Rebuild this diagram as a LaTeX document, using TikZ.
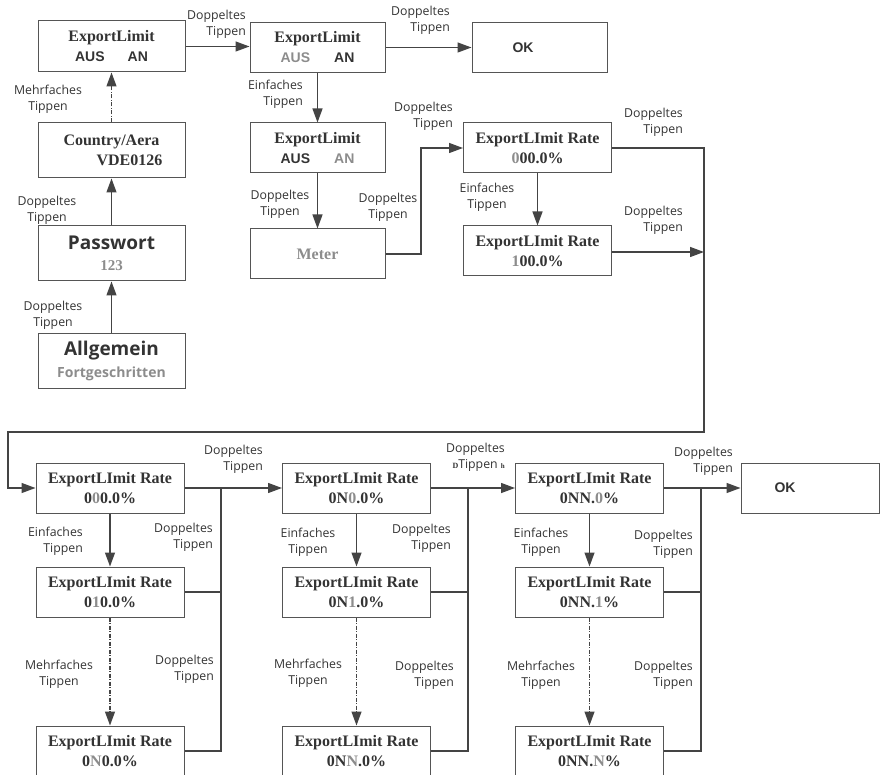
\documentclass[tikz,border=0pt]{standalone}
\usepackage{fontspec}
\setmainfont{Liberation Serif}
\newfontfamily\lblfamily{Open Sans}
\newfontfamily\arialfamily{Liberation Sans}
\usetikzlibrary{arrows.meta}
\definecolor{txt}{HTML}{333333}
\definecolor{gry}{HTML}{8C8C8C}
\definecolor{lnc}{HTML}{444444}
\definecolor{bxc}{HTML}{555555}
\newcommand\srb[1]{{\fontsize{16}{20}\selectfont\bfseries #1}}
\newcommand\arb[1]{{\arialfamily\fontsize{14}{20}\selectfont\bfseries #1}}
\newcommand\osb[2]{{\lblfamily\fontsize{#1}{20}\selectfont\bfseries #2}}
\newcommand\gr[1]{\textcolor{gry}{#1}}
\tikzset{
  box/.style={draw=bxc, line width=1pt, text=txt, align=center, inner sep=0pt,
    font=\fontsize{16}{20}\selectfont\bfseries},
  wbox/.style={box, minimum width=147pt, minimum height=55pt},
  mbox/.style={box, minimum width=135pt, minimum height=50pt},
  rbox/.style={box, minimum width=148pt, minimum height=50pt},
  lbl/.style={text=txt, align=center, inner sep=0pt,
    font=\lblfamily\fontsize{12.3}{16}\selectfont},
  lblr/.style={lbl, align=right, anchor=east},
  ln/.style={draw=lnc, line width=1.3pt},
  arr/.style={ln, -{Triangle[length=14pt,width=10pt]}},
  dd/.style={dash pattern=on 4pt off 1.5pt on 1pt off 1.5pt}
}
\begin{document}
\begin{tikzpicture}[x=1pt,y=-1pt]
\useasboundingbox (0,0) rectangle (880,775);
% top-left column
\node[box, minimum width=147pt, minimum height=51pt] (A) at (111.5,46.5)
  {ExportLimit\\\arb{AUS\hspace{23pt}AN}};
\node[wbox] (Country) at (111.5,150.5) {Country/Aera\\\hspace*{36pt}VDE0126};
\node[wbox] (Pass) at (111.5,253.5) {\osb{19}{Passwort}\\[1pt]\gr{\fontsize{15}{20}\selectfont 123}};
\node[wbox] (Allg) at (111.5,360.5) {\osb{19}{Allgemein}\\[2pt]\gr{\osb{14}{Fortgeschritten}}};
% top middle
\node[mbox] (B) at (317.5,47.5) {ExportLimit\\\arb{\gr{AUS}\hspace{24pt}AN}};
\node[mbox] (OK1) at (539.5,47.5) {\arb{OK}\rule{33pt}{0pt}};
\node[mbox] (C) at (317.5,148) {ExportLimit\\\arb{AUS\hspace{24pt}\gr{AN}}};
\node[mbox] (Meter) at (317.5,254) {\gr{Meter}};
\node[rbox] (R1) at (537.5,148) {ExportLImit Rate\\\gr{0}00.0\%};
\node[rbox] (R2) at (537.5,251) {ExportLImit Rate\\\gr{1}00.0\%};
% bottom columns
\node[rbox] (D1) at (110,488) {ExportLImit Rate\\0\gr{0}0.0\%};
\node[rbox] (D2) at (110,592) {ExportLImit Rate\\0\gr{1}0.0\%};
\node[rbox] (D3) at (110,751) {ExportLImit Rate\\0\gr{N}0.0\%};
\node[rbox] (E1) at (356.5,488) {ExportLImit Rate\\0N\gr{0}.0\%};
\node[rbox] (E2) at (356.5,592) {ExportLImit Rate\\0N\gr{1}.0\%};
\node[rbox] (E3) at (356.5,751) {ExportLImit Rate\\0N\gr{N}.0\%};
\node[rbox] (F1) at (589.5,488) {ExportLImit Rate\\0NN.\gr{0}\%};
\node[rbox] (F2) at (589.5,592) {ExportLImit Rate\\0NN.\gr{1}\%};
\node[rbox] (F3) at (589.5,751) {ExportLImit Rate\\0NN.\gr{N}\%};
\node[box, minimum width=138pt, minimum height=50pt] (OK2) at (810,488) {\arb{OK}\rule{50pt}{0pt}};
% rail coordinates
\coordinate (rx) at (704,432);
\coordinate (lx) at (8,432);
\coordinate (mx) at (421,0);
\coordinate (drx) at (221,0);
\coordinate (erx) at (468,0);
\coordinate (frx) at (701,0);
% connectors top
\draw[arr] (Allg) -- (Pass);
\draw[arr] (Pass) -- (Country);
\draw[arr,dd] (Country) -- (A);
\draw[arr] (A) -- (A -| B.west);
\draw[arr] (B) -- (OK1);
\draw[arr] (B) -- (C);
\draw[arr] (C) -- (Meter);
\draw[arr] (Meter.east) -| (mx |- R1.west) -- (R1.west);
\draw[arr] (R1) -- (R2);
\draw[arr] (R1.east) -| (rx) -- (lx) |- (D1.west);
\draw[arr] (R2.east) ++(0,1) -- (rx |- 0,252);
% connectors bottom
\draw[arr] (D1) -- (E1);
\draw[arr] (D1) -- (D2);
\draw[arr,dd] (D2) -- (D3);
\draw[ln] (D2.east) -- (D2.east -| drx);
\draw[ln] (D3.east) -| (D1.east -| drx);
\draw[arr] (E1) -- (F1);
\draw[arr] (E1) -- (E2);
\draw[arr,dd] (E2) -- (E3);
\draw[ln] (E2.east) -- (E2.east -| erx);
\draw[ln] (E3.east) -| (E1.east -| erx);
\draw[arr] (F1) -- (OK2);
\draw[arr] (F1) -- (F2);
\draw[arr,dd] (F2) -- (F3);
\draw[ln] (F2.east) -- (F2.east -| frx);
\draw[ln] (F3.east) -| (F1.east -| frx);
% labels top
\node[lblr] (l1) at (246,24) {Doppeltes\\Tippen};
\node[lblr] (l2) at (450,20) {Doppeltes\\Tippen};
\node[lblr] (l3) at (303,94) {Einfaches\\Tippen};
\node[lbl] (l4) at (48,99.5) {Mehrfaches\\Tippen};
\node[lbl] (l5) at (47,210) {Doppeltes\\Tippen};
\node[lbl] (l6) at (53,315) {Doppeltes\\Tippen};
\node[lbl] (l7) at (280,204) {Doppeltes\\Tippen};
\node[lbl] (l8) at (388,207.5) {Doppeltes\\Tippen};
\node[lblr] (l9) at (453,116.5) {Doppeltes\\Tippen};
\node[lbl] (l10) at (487,197) {Einfaches\\Tippen};
\node[lblr] (l11) at (683,122) {Doppeltes\\Tippen};
\node[lblr] (l12) at (683,220) {Doppeltes\\Tippen};
% labels bottom
\node[lblr] (l13) at (263,459) {Doppeltes\\Tippen};
\node[lblr] (l14) at (83,541.5) {Einfaches\\Tippen};
\node[lblr] (l15) at (213,537.5) {Doppeltes\\Tippen};
\node[lbl] (l16) at (59,674.5) {Mehrfaches\\Tippen};
\node[lblr] (l17) at (214,669.5) {Doppeltes\\Tippen};
\node[lblr] (l18) at (505,457.5) {Doppeltes\\{\rmfamily\bfseries\fontsize{8}{8}\selectfont D}Tippen {\rmfamily\bfseries\fontsize{7}{7}\selectfont h}};
\node[lbl] (l19) at (308,542.5) {Einfaches\\Tippen};
\node[lblr] (l20) at (451,538.5) {Doppeltes\\Tippen};
\node[lbl] (l21) at (308,673.5) {Mehrfaches\\Tippen};
\node[lblr] (l22) at (454,675) {Doppeltes\\Tippen};
\node[lblr] (l23) at (733,461) {Doppeltes\\Tippen};
\node[lbl] (l24) at (541,542.5) {Einfaches\\Tippen};
\node[lblr] (l25) at (693,544) {Doppeltes\\Tippen};
\node[lbl] (l26) at (541,675) {Mehrfaches\\Tippen};
\node[lblr] (l27) at (693,675) {Doppeltes\\Tippen};
\end{tikzpicture}
\end{document}
